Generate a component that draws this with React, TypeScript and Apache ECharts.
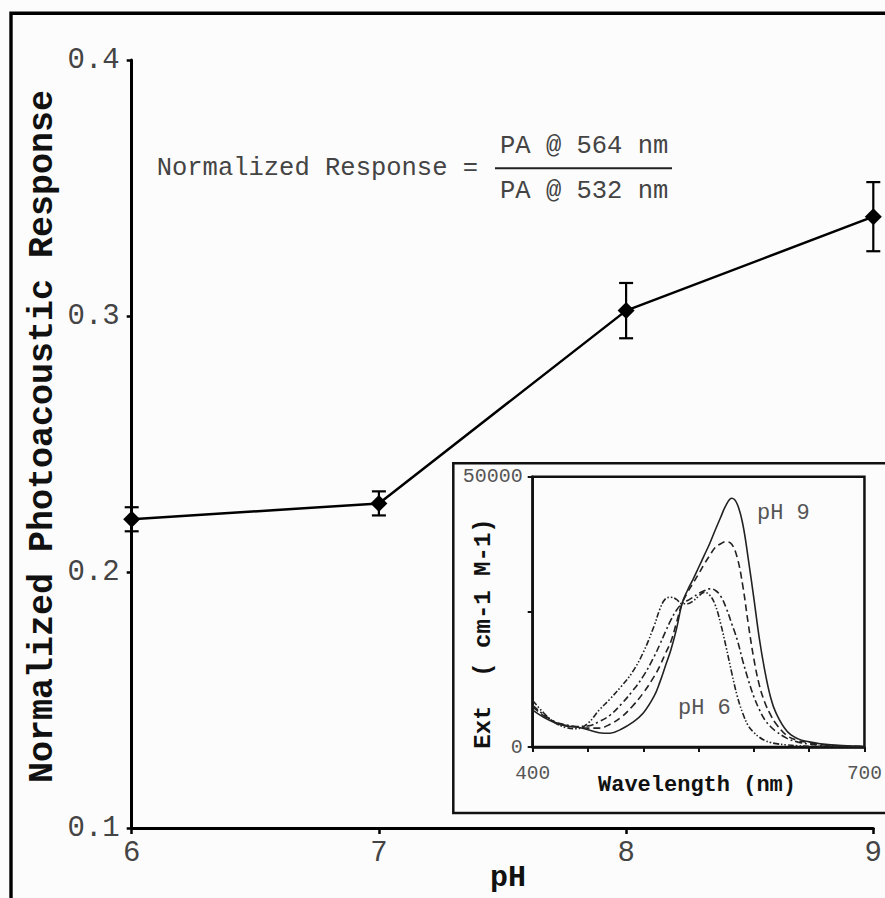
import React, { useEffect, useRef } from "react";
import * as echarts from "echarts";

const FONT = '"Liberation Mono", "Courier New", monospace';

// Main chart data
const phValues = [6, 7, 8, 9];
const responseValues = [0.2206, 0.2268, 0.3021, 0.3388];
const responseErrors = [0.0047, 0.0047, 0.0108, 0.0135];

// Inset spectra (wavelength nm, extinction cm-1 M-1)
const wavelengths = [400, 410, 420, 430, 440, 450, 460, 470, 480, 490, 500, 510, 515, 520, 525, 530, 535, 540, 545, 550, 555, 560, 565, 570, 575, 580, 585, 590, 595, 600, 605, 610, 615, 620, 630, 640, 650, 660, 680, 700];
const extPH9 = [6830, 5500, 4500, 3900, 3700, 3200, 2650, 2550, 3300, 4500, 6300, 9500, 12000, 15000, 18000, 21800, 26500, 29000, 31000, 33200, 35400, 37600, 40100, 42500, 44800, 46000, 44900, 41200, 34700, 27500, 20000, 14000, 9300, 6300, 2900, 1500, 950, 600, 250, 100];
const extPH8 = [7400, 5800, 4600, 4000, 3700, 3500, 3500, 4200, 5500, 7500, 10000, 13100, 15000, 17300, 19500, 23000, 26500, 28600, 30300, 32000, 33800, 35400, 36900, 37600, 38000, 37500, 35000, 29800, 22700, 16300, 11400, 8200, 6000, 4300, 2100, 1200, 800, 450, 180, 80];
const extPH7 = [7700, 6000, 4700, 4100, 3800, 3900, 4700, 5900, 7900, 10300, 13100, 16800, 19000, 21300, 23500, 25300, 26500, 27100, 27700, 28400, 28900, 29250, 29000, 27900, 25700, 22800, 19800, 15900, 12400, 9300, 6900, 5000, 3800, 2900, 1600, 900, 550, 320, 120, 60];
const extPH6 = [8600, 6300, 4500, 3600, 3400, 4400, 6800, 8900, 11200, 13800, 17500, 22500, 25500, 27400, 27700, 27300, 26500, 26500, 27000, 27900, 28600, 28100, 26300, 22800, 18400, 13700, 9400, 6200, 3900, 2700, 1800, 1200, 850, 620, 380, 220, 150, 100, 50, 30];

const insetXLabels = [400, 700];
const insetYLabels = [0, 50000];

function txt(text: string, x: number, y: number, size: number, opts: any = {}) {
  return {
    type: "text",
    x,
    y,
    rotation: opts.rotation || 0,
    z: 10,
    style: {
      text,
      font: `${opts.bold ? "bold " : ""}${size}px ${FONT}`,
      fill: opts.color || "#111",
      textAlign: opts.align || "center",
      align: opts.align || "center",
      textVerticalAlign: "middle",
      verticalAlign: "middle",
    },
  };
}

export default function App() {
  const ref = useRef<HTMLDivElement>(null);
  useEffect(() => {
    const chart = echarts.init(ref.current!, null, { renderer: "svg" });
    const specSeries = (data: number[], dash: any, name: string) => ({
      type: "line",
      name,
      xAxisIndex: 1,
      yAxisIndex: 1,
      data: wavelengths.map((w, i) => [w, data[i]]),
      smooth: 0.4,
      showSymbol: false,
      symbol: "none",
      lineStyle: { color: "#222", width: 1.6, type: dash },
      z: 3,
    });
    const option: any = {
      animation: false,
      backgroundColor: "#fcfcfc",
      grid: [
        { left: 131.7, top: 60, width: 746.6, height: 768 },
        {
          left: 532.7,
          top: 476.7,
          width: 339,
          height: 270.3,
          show: true,
          borderColor: "#111",
          borderWidth: 2.5,
          backgroundColor: "transparent",
        },
      ],
      xAxis: [
        {
          type: "value",
          gridIndex: 0,
          min: 6,
          max: 9,
          interval: 1,
          splitLine: { show: false },
          axisLine: { show: true, onZero: false, lineStyle: { color: "#000", width: 3 } },
          axisTick: { show: true, inside: false, length: 6, lineStyle: { color: "#000", width: 2.5 } },
          axisLabel: { fontFamily: FONT, fontSize: 29, color: "#444", margin: 11 },
        },
        {
          type: "value",
          gridIndex: 1,
          min: 400,
          max: 700,
          interval: 50,
          splitLine: { show: false },
          axisLine: { show: true, onZero: false, lineStyle: { color: "#111", width: 2.5 } },
          axisTick: { show: true, inside: false, length: 5, lineStyle: { color: "#111", width: 2 } },
          axisLabel: {
            fontFamily: FONT,
            fontSize: 19.5,
            color: "#555",
            margin: 17,
            formatter: (v: number) => (insetXLabels.includes(v) ? String(v) : ""),
          },
        },
      ],
      yAxis: [
        {
          type: "value",
          gridIndex: 0,
          min: 0.1,
          max: 0.4,
          interval: 0.1,
          splitLine: { show: false },
          axisLine: { show: true, onZero: false, lineStyle: { color: "#000", width: 3 } },
          axisTick: { show: true, inside: false, length: 5, lineStyle: { color: "#000", width: 2.5 } },
          axisLabel: {
            fontFamily: FONT,
            fontSize: 29,
            color: "#444",
            margin: 12,
            formatter: (v: number) => v.toFixed(1),
          },
        },
        {
          type: "value",
          gridIndex: 1,
          min: 0,
          max: 50000,
          interval: 25000,
          splitLine: { show: false },
          axisLine: { show: true, onZero: false, lineStyle: { color: "#111", width: 2.5 } },
          axisTick: { show: true, inside: false, length: 5, lineStyle: { color: "#111", width: 2 } },
          axisLabel: {
            fontFamily: FONT,
            fontSize: 20,
            color: "#555",
            margin: 10,
            formatter: (v: number) => (insetYLabels.includes(v) ? String(v) : ""),
          },
        },
      ],
      graphic: [
        {
          type: "rect",
          z: -1,
          shape: { x: 11, y: 13.3, width: 1000, height: 1000 },
          style: { fill: "none", stroke: "#000", lineWidth: 3.4 },
        },
        {
          type: "rect",
          z: -1,
          shape: { x: 453.3, y: 463.3, width: 500, height: 349.7 },
          style: { fill: "none", stroke: "#111", lineWidth: 2.5 },
        },
        txt("Normalized Photoacoustic Response", 43, 436.5, 35, { bold: true, rotation: Math.PI / 2 }),
        txt("pH", 508, 878, 30, { bold: true }),
        txt("Normalized Response =", 156.7, 168, 25.5, { align: "left", color: "#444" }),
        txt("PA @ 564 nm", 500, 146.7, 25.5, { align: "left", color: "#444" }),
        txt("PA @ 532 nm", 500, 191.7, 25.5, { align: "left", color: "#444" }),
        {
          type: "line",
          z: 10,
          shape: { x1: 495, y1: 168.3, x2: 672, y2: 168.3 },
          style: { stroke: "#222", lineWidth: 2 },
        },
        txt("Ext  ( cm-1 M-1)", 483, 633.5, 24, { bold: true, rotation: Math.PI / 2 }),
        txt("Wavelength (nm)", 697, 785, 22, { bold: true }),
        txt("pH 9", 757, 513.3, 22, { align: "left", color: "#555" }),
        txt("pH 6", 678, 708.3, 22, { align: "left", color: "#555" }),
      ],
      series: [
        {
          type: "custom",
          xAxisIndex: 0,
          yAxisIndex: 0,
          clip: false,
          z: 2,
          data: phValues.map((p, i) => [p, responseValues[i] - responseErrors[i], responseValues[i] + responseErrors[i]]),
          encode: { x: 0, y: [1, 2] },
          renderItem: (params: any, api: any) => {
            const x = api.value(0);
            const lo = api.coord([x, api.value(1)]);
            const hi = api.coord([x, api.value(2)]);
            const w = 7;
            const st = { stroke: "#000", lineWidth: 2.2 };
            return {
              type: "group",
              children: [
                { type: "line", shape: { x1: lo[0], y1: lo[1], x2: hi[0], y2: hi[1] }, style: st },
                { type: "line", shape: { x1: lo[0] - w, y1: lo[1], x2: lo[0] + w, y2: lo[1] }, style: st },
                { type: "line", shape: { x1: hi[0] - w, y1: hi[1], x2: hi[0] + w, y2: hi[1] }, style: st },
              ],
            };
          },
        },
        {
          type: "line",
          xAxisIndex: 0,
          yAxisIndex: 0,
          data: phValues.map((p, i) => [p, responseValues[i]]),
          symbol: "diamond",
          symbolSize: 17,
          showSymbol: true,
          clip: false,
          itemStyle: { color: "#000" },
          lineStyle: { color: "#000", width: 2.5 },
          z: 3,
        },
        specSeries(extPH9, "solid", "pH 9"),
        specSeries(extPH8, [7, 4], "pH 8"),
        specSeries(extPH7, [7, 3, 2, 3], "pH 7"),
        specSeries(extPH6, [6, 2, 1.5, 2, 1.5, 2], "pH 6"),
      ],
    };
    chart.setOption(option);
    return () => chart.dispose();
  }, []);
  return <div ref={ref} style={{ position: "absolute", left: 0, top: 0, width: 885, height: 898 }} />;
}
